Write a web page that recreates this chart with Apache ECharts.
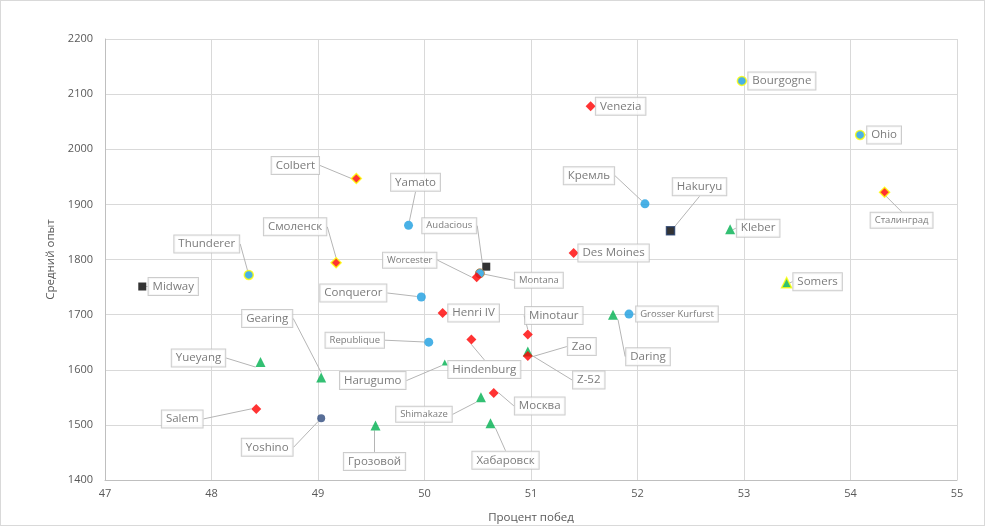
<!DOCTYPE html>
<html><head><meta charset="utf-8">
<script src="https://cdn.jsdelivr.net/npm/echarts@6/dist/echarts.min.js"></script>
<style>html,body{margin:0;padding:0;background:#fff}#c{width:985px;height:526px;box-sizing:border-box;border:1px solid #d9d9d9}</style>
</head><body><div id="c"></div>
<script>
// ---- data ----
const ships = ['Bourgogne','Venezia','Ohio','Colbert','Сталинград','Кремль','Yamato','Hakuryu','Kleber','Des Moines',
  'Смоленск','Audacious','Thunderer','Montana','Worcester','Midway','Somers','Conqueror','Henri IV','Grosser Kurfurst',
  'Daring','Minotaur','Republique','Hindenburg','Zao','Z-52','Yueyang','Harugumo','Gearing','Shimakaze',
  'Москва','Salem','Yoshino','Грозовой','Хабаровск'];
const winRate = [52.98,51.56,54.09,49.36,54.32,52.07,49.85,52.31,52.87,51.40,
  49.17,50.58,48.35,50.52,50.49,47.35,53.40,49.97,50.17,51.92,
  51.77,50.97,50.04,50.44,50.97,50.97,48.46,50.19,49.03,50.53,
  50.65,48.42,49.03,49.54,50.62];
const avgExp = [2124,2078,2026,1947,1922,1901,1862,1852,1855,1812,
  1794,1787,1772,1775,1768,1751,1758,1732,1703,1701,
  1700,1664,1650,1655,1633,1625,1614,1613,1586,1550,
  1558,1529,1512,1499,1503];
const shipType = ['BB','CA','BB','CA','CA','BB','BB','CV','DD','CA',
  'CA','CV','BB','BB','CA','CV','DD','BB','CA','BB',
  'DD','CA','BB','CA','DD','CA','DD','DD','DD','DD',
  'CA','CA','BB2','DD','DD'];
const xTicks = {min:47, max:55, step:1};
const yTicks = {min:1400, max:2200, step:100};

// ---- layout / style (not data) ----
const labelDx = [40,30,24,-61,17,-56,7,29,28,40, -41,-37,-42,59,-67,31,31,-68,31,48, 35,26,-74,13,54,61,-62,-72,-54,-57, 46,-74,-54,-1,15];
const labelDy = [0,0,0,-13,28,-28,-43,-44,-1,0, -36,-41,-31,7,-17,0,-1,-4,0,0, 42,-19,-2,30,-5,24,-4,18,-59,17, 13,10,29,36,37];
const smallLabel = ['Сталинград','Audacious','Worcester','Montana','Republique','Shimakaze','Grosser Kurfurst'];
const yellowBorder = ['Bourgogne','Ohio','Thunderer','Colbert','Смоленск','Сталинград','Somers'];
const typeStyle = {
  BB:{symbol:'circle', size:9, color:'#1b9de0'},
  BB2:{symbol:'circle', size:8, color:'#2e4a7d'},
  CA:{symbol:'diamond', size:10, color:'#ff0000'},
  DD:{symbol:'triangle', size:10, color:'#00b050'},
  CV:{symbol:'rect', size:8, color:'#000000'}
};

const data = ships.map((n,i)=>{
  const st = typeStyle[shipType[i]];
  let border = null, bw = 0;
  if (yellowBorder.includes(n)) { border = '#ffff00'; bw = 1.5; }
  if (n === 'Montana') { border = '#c0762a'; bw = 1; }
  if (n === 'Hakuryu') { border = '#1f3864'; bw = 1.5; }
  return {
    name: n,
    value: [winRate[i], avgExp[i]],
    symbol: st.symbol,
    symbolSize: n === 'Harugumo' ? 6 : st.size,
    itemStyle: {color: st.color, borderColor: border || st.color, borderWidth: bw},
    label: {fontSize: smallLabel.includes(n) ? 9.5 : 11.5}
  };
});

const chart = echarts.init(document.getElementById('c'));
chart.setOption({
  animation: false,
  grid: {left:104, right:27, top:38, bottom:45, containLabel:false, outerBoundsMode:'none'},
  xAxis: {
    type:'value', min:xTicks.min, max:xTicks.max, interval:xTicks.step,
    name:'Процент побед', nameLocation:'middle', nameGap:32,
    nameTextStyle:{color:'#595959', fontSize:11.5, fontFamily:'Open Sans'},
    axisLine:{show:true, lineStyle:{color:'#bfbfbf'}},
    axisTick:{show:false},
    axisLabel:{color:'#595959', fontSize:11, fontFamily:'Open Sans', margin:8, formatter: v => String(v)},
    splitLine:{show:true, lineStyle:{color:'#d9d9d9'}}
  },
  yAxis: {
    type:'value', min:yTicks.min, max:yTicks.max, interval:yTicks.step,
    name:'Средний опыт', nameLocation:'middle', nameGap:47, nameRotate:90,
    nameTextStyle:{color:'#595959', fontSize:11.5, fontFamily:'Open Sans'},
    axisLine:{show:true, lineStyle:{color:'#bfbfbf'}},
    axisTick:{show:false},
    axisLabel:{color:'#595959', fontSize:11, fontFamily:'Open Sans', margin:12, formatter: v => String(v)},
    splitLine:{show:true, lineStyle:{color:'#d9d9d9'}}
  },
  series: [{
    type:'scatter',
    data: data,
    label: {
      show:true, position:'inside',
      formatter: p => p.name,
      color:'#595959', fontFamily:'Open Sans', fontSize:11.5,
      backgroundColor:'#ffffff', borderColor:'#bfbfbf', borderWidth:1,
      padding:[3,4,2,4]
    },
    labelLine: {show:true, lineStyle:{color:'#b5b5b5', width:1}},
    labelLayout: p => ({dx: labelDx[p.dataIndex], dy: labelDy[p.dataIndex]})
  }]
});
</script></body></html>
